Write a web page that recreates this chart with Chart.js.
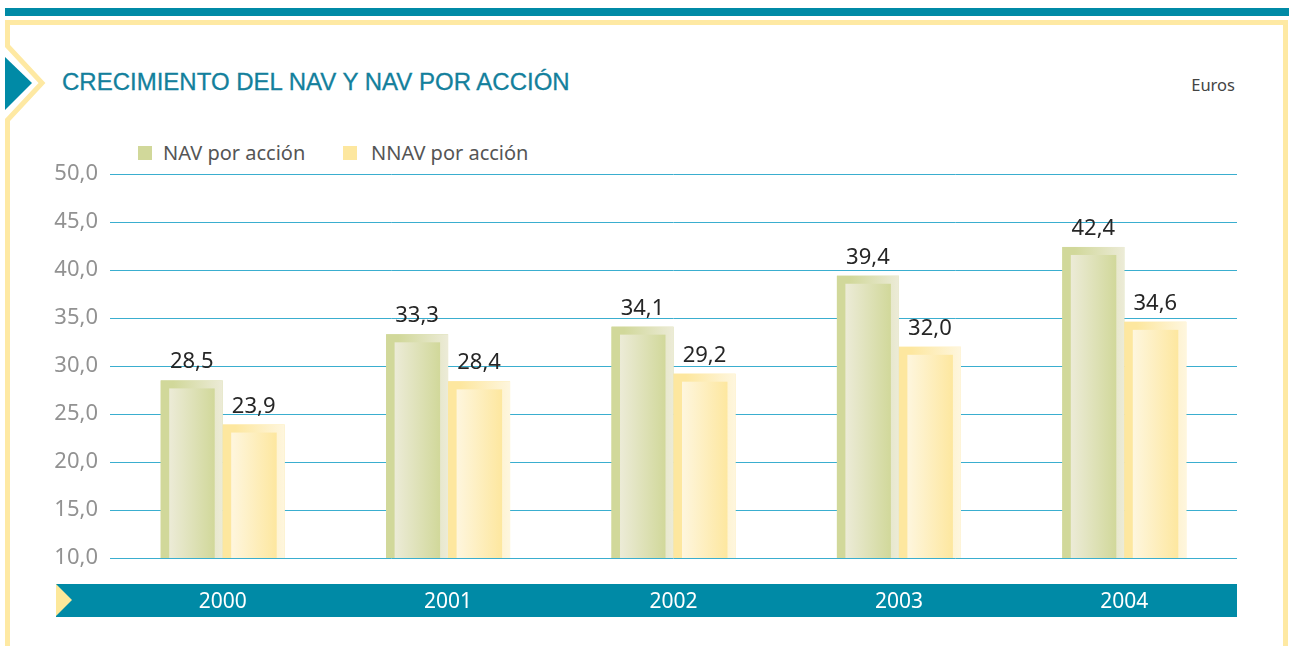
<!DOCTYPE html>
<html>
<head>
<meta charset="utf-8">
<script src="https://cdn.jsdelivr.net/npm/chart.js@4/dist/chart.umd.min.js"></script>
<style>
  body { margin: 0; background: #fff; font-family: "Noto Sans", sans-serif; }
  #wrap { position: relative; width: 1289px; height: 646px; overflow: hidden; }
  #deco { position: absolute; left: 0; top: 0; }
  #band { position: absolute; left: 56px; top: 584px; width: 1181px; height: 33px; background: #008aa6; }
  #title { position: absolute; left: 62px; top: 68px; font-family: "Liberation Sans", sans-serif; font-size: 24px; color: #13809c; -webkit-text-stroke: 0.3px #13809c; }
  #unit { position: absolute; right: 54px; top: 73px; font-size: 16.5px; color: #444; }
  #legend { position: absolute; left: 138px; top: 139px; font-size: 20px; color: #555; }
  #legend span.item { position: absolute; white-space: nowrap; }
  #legend i { position: absolute; top: 7px; width: 14px; height: 14px; }
  canvas#chart { position: absolute; left: 0; top: 0; }
</style>
</head>
<body>
<div id="wrap">
  <svg id="deco" width="1289" height="646">
    <rect x="5" y="8" width="1284" height="8" fill="#008aa6"/>
    <polyline points="1285.5,646 1285.5,22.5 7.5,22.5 7.5,46 42,83 7.5,120 7.5,646" fill="none" stroke="#fee9a3" stroke-width="5"/>
    <polygon points="5,57 32,83 5,110" fill="#008aa6"/>
  </svg>
  <div id="band"></div>
  <svg style="position:absolute;left:56px;top:584px" width="20" height="33">
    <polygon points="0,0 16,16 0,32" fill="#fde89a"/>
  </svg>
  <div id="title">CRECIMIENTO DEL NAV Y NAV POR ACCIÓN</div>
  <div id="unit">Euros</div>
  <div id="legend"></div>
  <canvas id="chart" width="1289" height="646"></canvas>
</div>
<script>
// datos
var years = ["2000", "2001", "2002", "2003", "2004"];
var navValues = [28.5, 33.3, 34.1, 39.4, 42.4];
var nnavValues = [23.9, 28.4, 29.2, 32.0, 34.6];
var seriesNames = ["NAV por acción", "NNAV por acción"];

// colores: [oscuro, claro]
var barColors = [
  ["#d1d89a", "#ecebd7"],
  ["#fde79f", "#fef6de"]
];

function fmt(v) {
  return v.toFixed(1).replace('.', ',');
}

// barras con relieve y etiquetas de valor
var barDeco = {
  id: 'barDeco',
  afterDatasetsDraw: function(chart) {
    var ctx = chart.ctx;
    var floor = chart.chartArea.bottom;
    chart.data.datasets.forEach(function(ds, di) {
      var meta = chart.getDatasetMeta(di);
      var c = barColors[di];
      meta.data.forEach(function(bar, i) {
        var left = bar.x - bar.width / 2;
        var right = bar.x + bar.width / 2;
        var top = bar.y;
        var bottom = Math.min(bar.base, floor);
        var g = ctx.createLinearGradient(left, 0, right, 0);
        g.addColorStop(0, c[0]);
        g.addColorStop(0.2, c[0]);
        g.addColorStop(1, c[1]);
        ctx.fillStyle = g;
        ctx.fillRect(left, top, right - left, bottom - top);
        var il = left + 8.5, ir = right - 8;
        var g2 = ctx.createLinearGradient(il, 0, ir, 0);
        g2.addColorStop(0, c[1]);
        g2.addColorStop(1, c[0]);
        ctx.fillStyle = g2;
        ctx.fillRect(il, top + 8, ir - il, bottom - top - 8);
        ctx.fillStyle = '#262626';
        ctx.font = '22px "Noto Sans"';
        ctx.textAlign = 'center';
        ctx.textBaseline = 'alphabetic';
        ctx.fillText(fmt(ds.data[i]), bar.x, top - 12);
      });
    });
  }
};

var chart = new Chart(document.getElementById('chart'), {
  type: 'bar',
  data: {
    labels: years,
    datasets: [
      { label: seriesNames[0], data: navValues, backgroundColor: barColors[0][0] },
      { label: seriesNames[1], data: nnavValues, backgroundColor: barColors[1][0] }
    ]
  },
  options: {
    responsive: false,
    animation: false,
    layout: { padding: { left: 0, right: 52, top: 174, bottom: 0 } },
    categoryPercentage: 0.55,
    barPercentage: 1,
    plugins: { legend: { display: false }, tooltip: { enabled: false } },
    scales: {
      x: {
        grid: { display: false, drawTicks: false },
        border: { display: false },
        ticks: { color: '#ffffff', font: { family: 'Noto Sans', size: 21 }, padding: 31 },
        afterFit: function(s) { s.height = 88; }
      },
      y: {
        min: 10, max: 50,
        grid: { color: '#3aaecf', lineWidth: 1, drawTicks: false },
        border: { display: false },
        ticks: {
          stepSize: 5, color: '#929292', padding: 12,
          font: { family: 'Noto Sans', size: 22 },
          callback: function(v) { return fmt(v); }
        },
        afterFit: function(s) { s.width = 110; }
      }
    }
  },
  plugins: [barDeco]
});

// leyenda
var leg = document.getElementById('legend');
var offs = [0, 205];
chart.data.datasets.forEach(function(ds, i) {
  var s = document.createElement('span');
  s.className = 'item';
  s.style.left = offs[i] + 'px';
  s.innerHTML = '<i style="background:' + barColors[i][0] + '"></i><span style="margin-left:' + (i ? 28 : 25) + 'px">' + ds.label + '</span>';
  leg.appendChild(s);
});
</script>
</body>
</html>
